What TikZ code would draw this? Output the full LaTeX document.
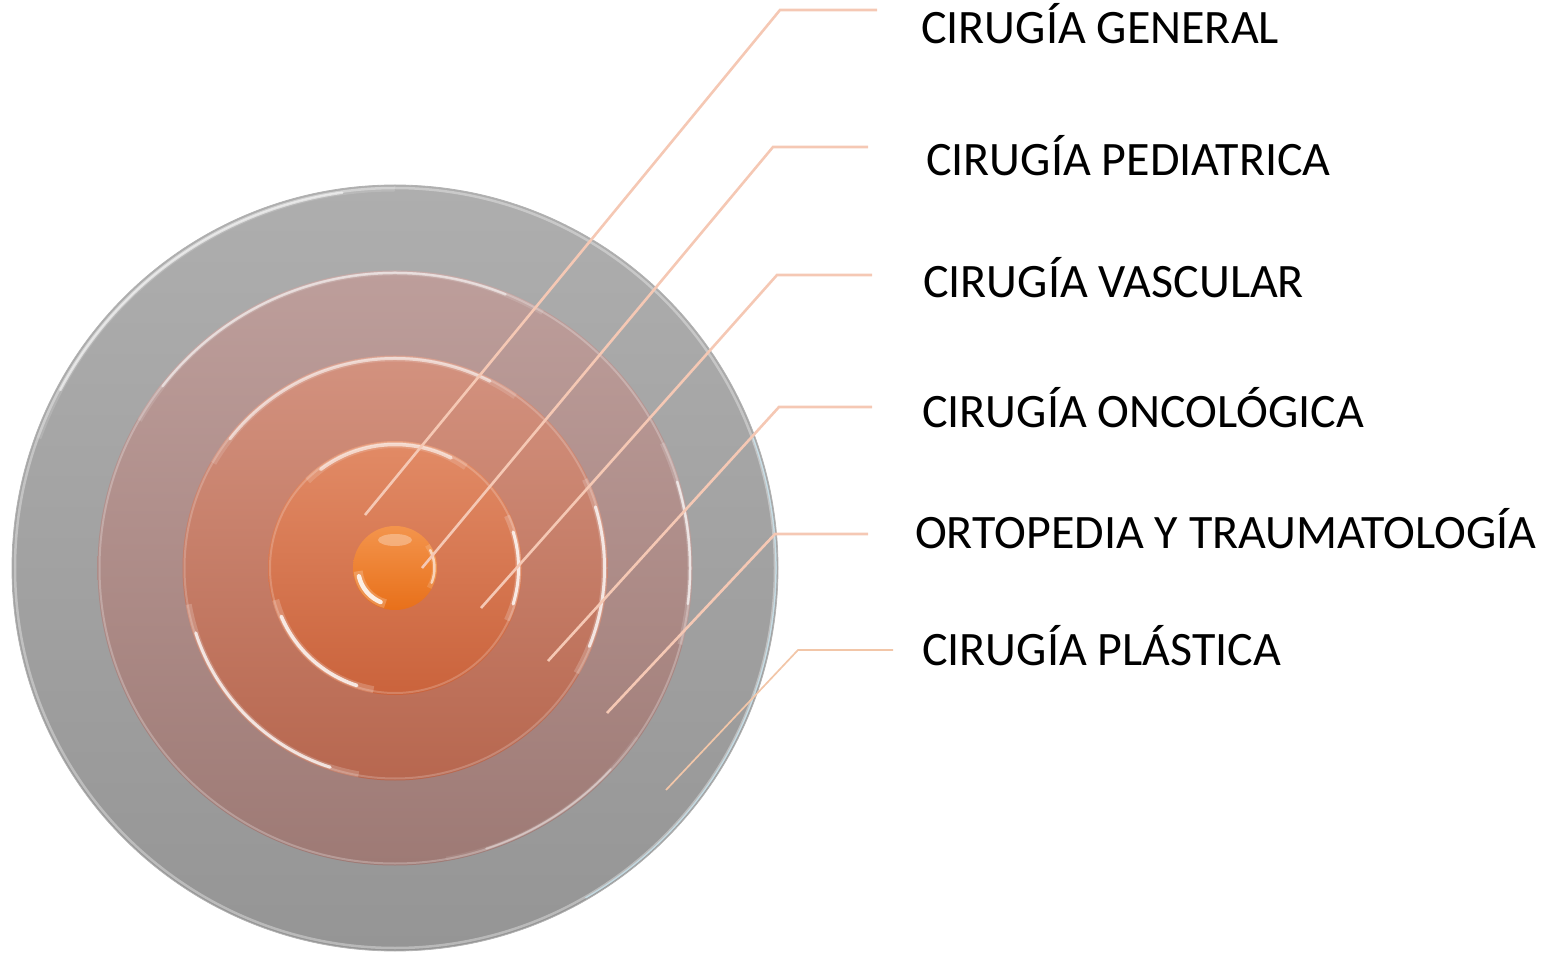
\documentclass[tikz,border=0pt]{standalone}
\usepackage{fontspec}
\setmainfont{Carlito}
\definecolor{leadc}{HTML}{F5C8B4}
\definecolor{leadd}{HTML}{F2C6A8}
\definecolor{gtop}{HTML}{AEAEAE}
\definecolor{gbot}{HTML}{959595}
\definecolor{r2top}{HTML}{BD9E9B}
\definecolor{r2bot}{HTML}{9E7A75}
\definecolor{r3top}{HTML}{D3927F}
\definecolor{r3bot}{HTML}{B7674F}
\definecolor{r4top}{HTML}{E28B66}
\definecolor{r4bot}{HTML}{CA633C}
\definecolor{r5top}{HTML}{F3944C}
\definecolor{r5bot}{HTML}{E8701A}
% soft highlight arc: radius, start, end, opacity, width
\newcommand\hlarc[5]{%
  \pgfmathsetmacro\hlW{#5*2}%
  \draw[white,opacity=#4*0.25,line width=\hlW pt] ([shift={(#2:#1)}]c) arc[start angle=#2,end angle=#3,radius=#1];
  \draw[white,opacity=#4,line width=#5 pt,line cap=round] ([shift={(#2+8:#1)}]c) arc[start angle=#2+8,end angle=#3-8,radius=#1];}
\begin{document}
\begin{tikzpicture}[x=1pt,y=1pt,
  lead/.style={draw=leadc, line width=2.6pt},
  leadthin/.style={draw=leadd, line width=1.7pt},
  lbl/.style={anchor=base west, inner sep=0pt, font=\fontsize{48}{58}\selectfont, text=black}]
\useasboundingbox (0,0) rectangle (1542,954);
\coordinate (c) at (395,386);
% outer gray disc
\shade[top color=gtop, bottom color=gbot] (c) circle[radius=383pt];
\draw[gray!60, line width=0.8pt] (c) circle[radius=383pt];
\draw[white, opacity=0.35, line width=2.5pt] (c) circle[radius=380pt];
\hlarc{379pt}{90}{160}{0.55}{2.5}
\draw[cyan!20!white, opacity=0.6, line width=1.5pt] ([shift={(-60:381pt)}]c) arc[start angle=-60,end angle=20,radius=381pt];
% ring 2
\shade[top color=r2top, bottom color=r2bot] (c) circle[radius=297.5pt];
\draw[white, opacity=0.25, line width=2pt] (c) circle[radius=295.5pt];
\hlarc{295pt}{60}{150}{0.5}{2.5}
\hlarc{295pt}{-15}{25}{0.65}{2.5}
\hlarc{295pt}{-80}{-35}{0.35}{2}
% ring 3
\shade[top color=r3top, bottom color=r3bot] (c) circle[radius=212.5pt];
\draw[white, opacity=0.2, line width=2pt] (c) circle[radius=210.5pt];
\hlarc{209.5pt}{55}{150}{0.55}{3}
\hlarc{209.5pt}{190}{260}{0.75}{3}
\hlarc{209.5pt}{-30}{25}{0.75}{3}
% ring 4
\shade[top color=r4top, bottom color=r4bot] (c) circle[radius=127pt];
\draw[white, opacity=0.2, line width=2pt] (c) circle[radius=125pt];
\hlarc{123.5pt}{55}{135}{0.6}{3.5}
\hlarc{123.5pt}{195}{260}{0.8}{3.5}
\hlarc{123.5pt}{-25}{25}{0.8}{3}
% inner ball
\shade[top color=r5top, bottom color=r5bot] (c) circle[radius=42pt];
\fill[white, opacity=0.3] ([yshift=28pt]c) ellipse[x radius=17pt, y radius=6pt];
\hlarc{37pt}{185}{255}{0.85}{4.5}
\hlarc{39.5pt}{-30}{35}{0.6}{2.5}
% leader points
\coordinate (s1) at (365,439); \coordinate (b1) at (780,944); \coordinate (e1) at (877,944);
\coordinate (s2) at (422,386); \coordinate (b2) at (773,807); \coordinate (e2) at (868,807);
\coordinate (s3) at (481,346); \coordinate (b3) at (777,679); \coordinate (e3) at (872,679);
\coordinate (s4) at (548,293); \coordinate (b4) at (779,547); \coordinate (e4) at (872,547);
\coordinate (s5) at (607,241); \coordinate (b5) at (775,420); \coordinate (e5) at (868,420);
\coordinate (s6) at (666,164); \coordinate (b6) at (798,304); \coordinate (e6) at (893,304);
\draw[lead] (s1) -- (b1) -- (e1);
\draw[lead] (s2) -- (b2) -- (e2);
\draw[lead] (s3) -- (b3) -- (e3);
\draw[lead] (s4) -- (b4) -- (e4);
\draw[lead] (s5) -- (b5) -- (e5);
\draw[leadthin] (s6) -- (b6) -- (e6);
% labels
\node[lbl] (t1) at (921,910) {CIRUGÍA GENERAL};
\node[lbl] (t2) at (926,778) {CIRUGÍA PEDIATRICA};
\node[lbl] (t3) at (923,656) {CIRUGÍA VASCULAR};
\node[lbl] (t4) at (922,526) {CIRUGÍA ONCOLÓGICA};
\node[lbl] (t5) at (915,405) {ORTOPEDIA Y TRAUMATOLOGÍA};
\node[lbl] (t6) at (922,289) {CIRUGÍA PLÁSTICA};
\end{tikzpicture}
\end{document}
